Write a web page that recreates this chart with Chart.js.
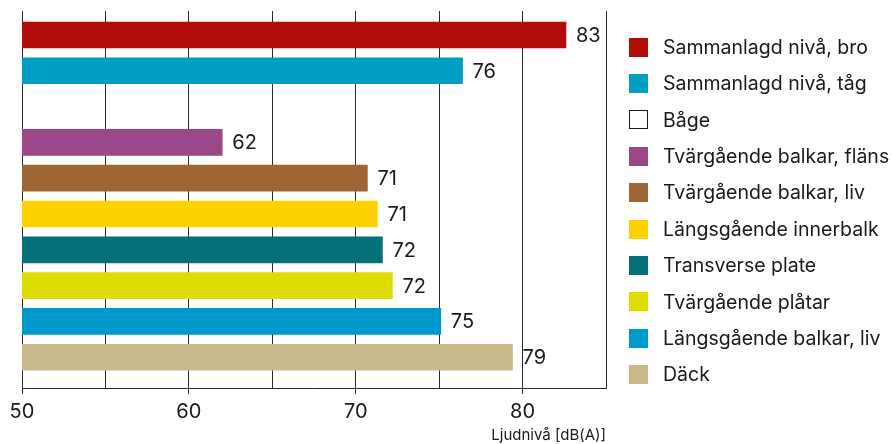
<!DOCTYPE html>
<html>
<head>
<meta charset="utf-8">
<script src="https://cdn.jsdelivr.net/npm/chart.js@4/dist/chart.umd.min.js"></script>
<style>
  html, body { margin: 0; padding: 0; background: #fff; }
</style>
</head>
<body>
<canvas id="noiseChart" width="893" height="444"></canvas>
<script>
const categories = ['Sammanlagd nivå, bro', 'Sammanlagd nivå, tåg', 'Båge', 'Tvärgående balkar, fläns', 'Tvärgående balkar, liv', 'Längsgående innerbalk', 'Transverse plate', 'Tvärgående plåtar', 'Längsgående balkar, liv', 'Däck'];
const levels = [82.6, 76.4, null, 62.0, 70.7, 71.3, 71.6, 72.2, 75.1, 79.4];
const barColors = ['#B20D0B', '#009EC3', '#FFFFFF', '#9C4788', '#9E6634', '#FDD200', '#03707A', '#DFDC00', '#0099CC', '#C9B98D'];
const xTicks = [50, 55, 60, 65, 70, 75, 80, 85];
const xLabelled = [50, 60, 70, 80];
const xTitle = 'Ljudnivå [dB(A)]';

const TEXT = '#1a1a1a';
const LINE = '#2a2a2a';
Chart.defaults.font.family = 'Inter, Roboto, sans-serif';
Chart.defaults.color = TEXT;

const valueLabels = {
  id: 'valueLabels',
  afterDatasetsDraw(chart) {
    const { ctx } = chart;
    const meta = chart.getDatasetMeta(0);
    ctx.save();
    ctx.font = '20px ' + Chart.defaults.font.family;
    ctx.fillStyle = TEXT;
    ctx.textAlign = 'left';
    ctx.textBaseline = 'middle';
    meta.data.forEach((bar, i) => {
      if (levels[i] == null) return;
      ctx.fillText(Math.round(levels[i]).toString(), bar.x + 10, bar.y + 1);
    });
    ctx.restore();
  }
};

// legend drawn by hand so box/text spacing matches the original
const sideLegend = {
  id: 'sideLegend',
  afterDraw(chart) {
    const { ctx, chartArea } = chart;
    const boxX = chartArea.right + 23;
    ctx.save();
    ctx.font = '19.5px ' + Chart.defaults.font.family;
    ctx.textBaseline = 'middle';
    ctx.textAlign = 'left';
    categories.forEach((name, i) => {
      const cy = 47 + i * 36.4;
      if (levels[i] == null) {
        ctx.fillStyle = '#fff';
        ctx.fillRect(boxX, Math.round(cy - 9.5), 19, 19);
        ctx.strokeStyle = TEXT;
        ctx.lineWidth = 1;
        ctx.strokeRect(boxX + 0.5, Math.round(cy - 9.5) + 0.5, 18, 18);
      } else {
        ctx.fillStyle = barColors[i];
        ctx.fillRect(boxX, Math.round(cy - 9.5), 19, 19);
      }
      ctx.fillStyle = TEXT;
      ctx.fillText(name, boxX + 34, cy + 1);
    });
    ctx.restore();
  }
};

new Chart(document.getElementById('noiseChart'), {
  type: 'bar',
  data: {
    labels: categories,
    datasets: [{
      data: levels.map((v, i) => ({ x: v, y: i })),
      backgroundColor: barColors,
      barThickness: 26,
      borderWidth: 0
    }]
  },
  plugins: [valueLabels, sideLegend],
  options: {
    indexAxis: 'y',
    responsive: false,
    animation: false,
    layout: { padding: { top: 11, right: 287, left: 0, bottom: 0 } },
    plugins: { legend: { display: false }, tooltip: { enabled: false } },
    scales: {
      x: {
        type: 'linear',
        min: 50, max: 85,
        afterBuildTicks: s => { s.ticks = xTicks.map(v => ({ value: v })); },
        afterFit: s => { s.height = 56; },
        ticks: {
          autoSkip: false, maxRotation: 0, padding: 6,
          font: { size: 20 }, color: TEXT,
          callback: v => xLabelled.includes(v) ? v : ''
        },
        grid: {
          color: LINE, lineWidth: 1, tickLength: 6,
          tickColor: c => xLabelled.includes(c.tick.value) ? LINE : 'rgba(0,0,0,0)'
        },
        border: { display: true, color: LINE },
        title: {
          display: true, text: xTitle, align: 'end',
          font: { size: 15 }, color: TEXT, padding: { top: 2, bottom: 0 }
        }
      },
      y: {
        type: 'linear',
        reverse: true,
        offset: false,
        min: -0.67, max: 9.86,
        afterFit: s => { s.width = 22; },
        ticks: { display: false },
        grid: { display: false },
        border: { display: false }
      }
    }
  }
});
</script>
</body>
</html>
